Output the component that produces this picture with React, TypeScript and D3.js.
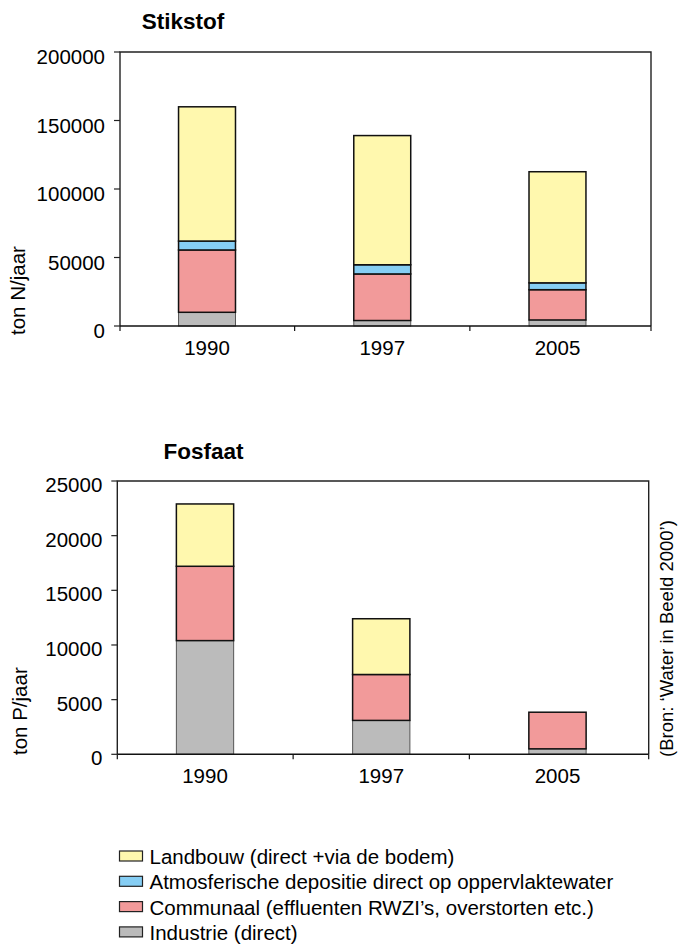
import React from "react";
import * as d3 from "d3";

const years = ["1990", "1997", "2005"];
const seriesKeys = ["industrie", "communaal", "atmos", "landbouw"];
const seriesColors = ["#BBBBBB", "#F29A9A", "#86CEF4", "#FFF8AE"];
const seriesLabels = [
  "Industrie (direct)",
  "Communaal (effluenten RWZI\u2019s, overstorten etc.)",
  "Atmosferische depositie direct op oppervlaktewater",
  "Landbouw (direct +via de bodem)",
];

const nIndustrie = [10000, 4000, 4400];
const nCommunaal = [45500, 34000, 22100];
const nAtmos = [6500, 6700, 5000];
const nLandbouw = [98000, 94300, 81100];

const pIndustrie = [10400, 3100, 500];
const pCommunaal = [6800, 4200, 3350];
const pAtmos = [0, 0, 0];
const pLandbouw = [5700, 5100, 0];

const nTicks = [0, 50000, 100000, 150000, 200000];
const pTicks = [0, 5000, 10000, 15000, 20000, 25000];

const FONT = "'Liberation Sans', Arial, Helvetica, sans-serif";

type PanelProps = {
  title: string;
  titleX: number;
  titleY: number;
  yLabel: string;
  yLabelX: number;
  yLabelY: number;
  values: number[][];
  ticks: number[];
  maxY: number;
  frame: { x0: number; x1: number; y0: number; y1: number };
  band: [number, number];
  labelDy: number;
};

function Panel(p: PanelProps) {
  const rows = years.map((yr, i) => {
    const r: any = { year: yr };
    seriesKeys.forEach((k, s) => (r[k] = p.values[s][i]));
    return r;
  });
  const stacked = d3.stack<any>().keys(seriesKeys)(rows);
  const x = d3.scaleBand<string>().domain(years).range(p.band).padding(0);
  const y = d3.scaleLinear().domain([0, p.maxY]).range([p.frame.y1, p.frame.y0]);
  const bw = x.bandwidth() * 0.325;
  const { x0, x1, y0, y1 } = p.frame;
  const xTickPos = [x0, ...years.slice(1).map((yr) => x(yr)!), x1];

  return (
    <g>
      <text x={p.titleX} y={p.titleY} fontFamily={FONT} fontWeight="bold" fontSize={22.5} fill="#000">
        {p.title}
      </text>
      <text
        transform={`translate(${p.yLabelX},${p.yLabelY}) rotate(-90)`}
        fontFamily={FONT}
        fontSize={20.5}
        fill="#000"
        textAnchor="start"
      >
        {p.yLabel}
      </text>
      {/* frame */}
      <path d={`M${x0},${y1}V${y0}H${x1}V${y1}`} fill="none" stroke="#222" strokeWidth={1.4} />
      {/* bars */}
      {stacked.map((layer, s) =>
        layer.map((d, i) => {
          const h = y(d[0]) - y(d[1]);
          if (h <= 0.01) return null;
          const cx = x(years[i])! + x.bandwidth() / 2;
          const grey = s === 0;
          return (
            <rect
              key={`${s}-${i}`}
              x={cx - bw / 2}
              y={y(d[1])}
              width={bw}
              height={h}
              fill={seriesColors[s]}
              stroke={grey ? "#555" : "#111"}
              strokeWidth={grey ? 1 : 1.5}
            />
          );
        })
      )}
      {/* x axis */}
      <line x1={x0} x2={x1} y1={y1} y2={y1} stroke="#111" strokeWidth={1.5} />
      {xTickPos.map((tx, i) => (
        <line key={i} x1={tx} x2={tx} y1={y1} y2={y1 + 5} stroke="#111" strokeWidth={1.2} />
      ))}
      {years.map((yr) => (
        <text
          key={yr}
          x={x(yr)! + x.bandwidth() / 2}
          y={y1 + 28.5}
          textAnchor="middle"
          fontFamily={FONT}
          fontSize={20.5}
          fill="#000"
        >
          {yr}
        </text>
      ))}
      {/* y ticks */}
      {p.ticks.map((t) => (
        <g key={t}>
          <line x1={x0 - 6} x2={x0} y1={y(t)} y2={y(t)} stroke="#222" strokeWidth={1.2} />
          <text
            x={x0 - 15}
            y={y(t) + p.labelDy}
            textAnchor="end"
            fontFamily={FONT}
            fontSize={20.5}
            fill="#000"
          >
            {t}
          </text>
        </g>
      ))}
    </g>
  );
}

export default function App() {
  const legendOrder = [3, 2, 1, 0];
  return (
    <svg
      width={678}
      height={945}
      style={{ position: "absolute", left: 0, top: 0, background: "#fff" }}
    >
      <rect x={0} y={0} width={678} height={945} fill="#fff" />
      <Panel
        title="Stikstof"
        titleX={141.7}
        titleY={29.3}
        yLabel="ton N/jaar"
        yLabelX={25}
        yLabelY={335}
        values={[nIndustrie, nCommunaal, nAtmos, nLandbouw]}
        ticks={nTicks}
        maxY={200000}
        frame={{ x0: 120, x1: 651, y0: 52, y1: 326 }}
        band={[119.4, 645.1]}
        labelDy={12}
      />
      <Panel
        title="Fosfaat"
        titleX={163.5}
        titleY={458.5}
        yLabel="ton P/jaar"
        yLabelX={27}
        yLabelY={755}
        values={[pIndustrie, pCommunaal, pAtmos, pLandbouw]}
        ticks={pTicks}
        maxY={25000}
        frame={{ x0: 117.3, x1: 648.7, y0: 481, y1: 754.3 }}
        band={[116.9, 645.6]}
        labelDy={11}
      />
      <text
        transform="translate(673,757) rotate(-90)"
        fontFamily={FONT}
        fontSize={18.5}
        fill="#000"
        textAnchor="start"
      >
        (Bron: {"\u2018"}Water in Beeld 2000{"\u2019"})
      </text>
      {/* legend */}
      {legendOrder.map((s, i) => (
        <g key={s} transform={`translate(0,${i * 25.3})`}>
          <rect x={119.5} y={851} width={23} height={10} fill={seriesColors[s]} stroke="#222" strokeWidth={1.2} />
          <text x={149.5} y={864} fontFamily={FONT} fontSize={20.5} fill="#000">
            {seriesLabels[s]}
          </text>
        </g>
      ))}
    </svg>
  );
}
